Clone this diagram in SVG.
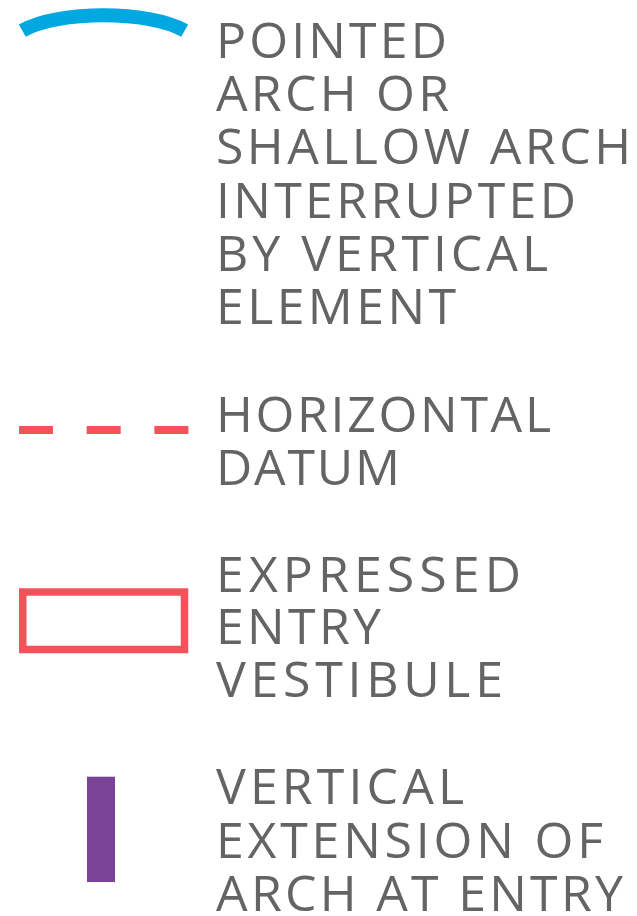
<svg xmlns="http://www.w3.org/2000/svg" width="637" height="916" viewBox="0 0 637 916">
<style>
text { font-family: "Open Sans", "Noto Sans", "Liberation Sans", sans-serif; font-size: 50px; fill: #646464; }
.arch { fill: none; stroke: #00a8e1; stroke-width: 14; }
.datum { fill: none; stroke: #f2525a; stroke-width: 8; stroke-dasharray: 34 33.7; }
.vest { fill: none; stroke: #f2525a; stroke-width: 7.5; }
.ext { fill: #7b4397; }
</style>
<rect width="637" height="916" fill="#ffffff"/>
<g id="item-arch">
<path class="arch" d="M22.3,30.7 C58.3,10.2 148.7,10.2 184.7,30.7"/>
<text x="216" y="57.7" textLength="231" lengthAdjust="spacing">POINTED</text>
<text x="216" y="111" textLength="233" lengthAdjust="spacing">ARCH OR</text>
<text x="216" y="164.3" textLength="415" lengthAdjust="spacing">SHALLOW ARCH</text>
<text x="216" y="218.3" textLength="360" lengthAdjust="spacing">INTERRUPTED</text>
<text x="216" y="271" textLength="332" lengthAdjust="spacing">BY VERTICAL</text>
<text x="216" y="324" textLength="240" lengthAdjust="spacing">ELEMENT</text>
</g>
<g id="item-datum">
<line class="datum" x1="19" y1="430" x2="189" y2="430"/>
<text x="216" y="432.3" textLength="335" lengthAdjust="spacing">HORIZONTAL</text>
<text x="216" y="484.5" textLength="184" lengthAdjust="spacing">DATUM</text>
</g>
<g id="item-vestibule">
<rect class="vest" x="22.75" y="592" width="161.75" height="57.5"/>
<text x="216" y="591.7" textLength="305" lengthAdjust="spacing">EXPRESSED</text>
<text x="216" y="644.3" textLength="165" lengthAdjust="spacing">ENTRY</text>
<text x="216" y="697.3" textLength="287" lengthAdjust="spacing">VESTIBULE</text>
</g>
<g id="item-extension">
<rect class="ext" x="87" y="776.7" width="28" height="105.3"/>
<text x="216" y="804.3" textLength="248" lengthAdjust="spacing">VERTICAL</text>
<text x="216" y="857.7" textLength="387" lengthAdjust="spacing">EXTENSION OF</text>
<text x="216" y="910.7" textLength="407" lengthAdjust="spacing">ARCH AT ENTRY</text>
</g>
<g id="connectors"/>
</svg>
